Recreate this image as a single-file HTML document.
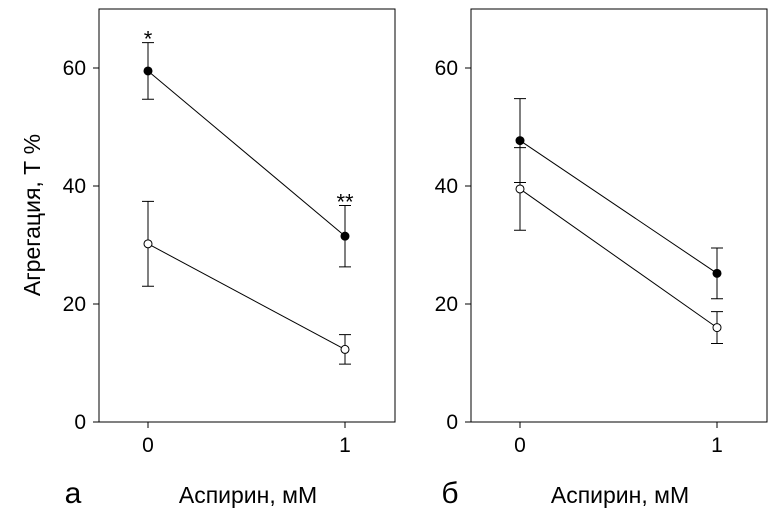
<!DOCTYPE html>
<html><head><meta charset="utf-8"><style>
body{margin:0;background:#fff}
svg{display:block;font-family:"Liberation Sans",Arial,sans-serif}
</style></head><body>
<svg id="c" width="779" height="514"></svg>
<script>
const categories=[0,1];
const tickLabels=["0","20","40","60"];
const tickValues=[0,20,40,60];
const leftFilled=[59.5,31.5], leftFilledErr=[4.8,5.2];
const leftOpen=[30.2,12.3], leftOpenErr=[7.2,2.5];
const rightFilled=[47.7,25.2], rightFilledErr=[7.1,4.3];
const rightOpen=[39.5,16.0], rightOpenErr=[7.0,2.7];
const leftStars=["*","**"];
const NS="http://www.w3.org/2000/svg";
const svg=document.getElementById('c');
function mk(t,a,p){const e=document.createElementNS(NS,t);for(const k in a)e.setAttribute(k,a[k]);(p||svg).appendChild(e);return e;}
const y=v=>422-v*5.9;
function panel(name,x0,x1,xc0,series,stars){
  const g=mk('g',{});
  
  
  const fr=mk('rect',{x:x0,y:9,width:x1-x0,height:413,fill:'none',stroke:'#000','stroke-width':1},g);
  
  const xs=c=>xc0+c*197;
  tickValues.forEach((v,i)=>{
    const t=mk('line',{x1:x0-6,x2:x0,y1:y(v),y2:y(v),stroke:'#000'},g);
    
    const l=mk('text',{x:x0-13,y:y(v)+7,'text-anchor':'end','font-size':21},g);
    l.textContent=tickLabels[i];
    
  });
  categories.forEach(c=>{
    const t=mk('line',{x1:xs(c),x2:xs(c),y1:422,y2:428,stroke:'#000'},g);
    
    const l=mk('text',{x:xs(c),y:452,'text-anchor':'middle','font-size':21},g);
    l.textContent=String(c);
    
  });
  series.forEach(s=>{
    const ln=mk('polyline',{points:s.v.map((v,i)=>xs(categories[i])+','+y(v)).join(' '),fill:'none',stroke:'#000','stroke-width':1},g);
    
    s.v.forEach((v,i)=>{
      const X=xs(categories[i]),hi=y(v+s.e[i]),lo=y(v-s.e[i]);
      const eb=mk('path',{d:`M${X},${hi}V${lo}M${X-6},${hi}H${X+6}M${X-6},${lo}H${X+6}`,stroke:'#000',fill:'none'},g);
      
      const p=mk('circle',{cx:X,cy:y(v),r:4,fill:s.f?'#000':'#fff',stroke:'#000'},g);
      
    });
  });
  if(stars){
    const s=series[0];
    stars.forEach((st,i)=>{
      const t=mk('text',{x:xs(categories[i]),y:y(s.v[i]+s.e[i])+4,'text-anchor':'middle','font-size':22},g);
      t.textContent=st;
      
    });
  }
}
panel('panel-a',99,395,148,[{n:'filled',v:leftFilled,e:leftFilledErr,f:1},{n:'open',v:leftOpen,e:leftOpenErr,f:0}],leftStars);
panel('panel-b',471,767,520,[{n:'filled',v:rightFilled,e:rightFilledErr,f:1},{n:'open',v:rightOpen,e:rightOpenErr,f:0}],null);
</script>
<svg style="position:absolute;left:0;top:0" width="779" height="514">
<text x="40" y="215" transform="rotate(-90 40 215)" text-anchor="middle" font-size="23" font-family="Liberation Sans,sans-serif">Агрегация, Т %</text>
<text x="248" y="503" text-anchor="middle" font-size="23" font-family="Liberation Sans,sans-serif">Аспирин, мМ</text>
<text x="620" y="503" text-anchor="middle" font-size="23" font-family="Liberation Sans,sans-serif">Аспирин, мМ</text>
<text x="73" y="503" text-anchor="middle" font-size="30" font-family="Liberation Sans,sans-serif">а</text>
<text x="450" y="503" text-anchor="middle" font-size="30" font-family="Liberation Sans,sans-serif">б</text>
</svg>
</body></html>
